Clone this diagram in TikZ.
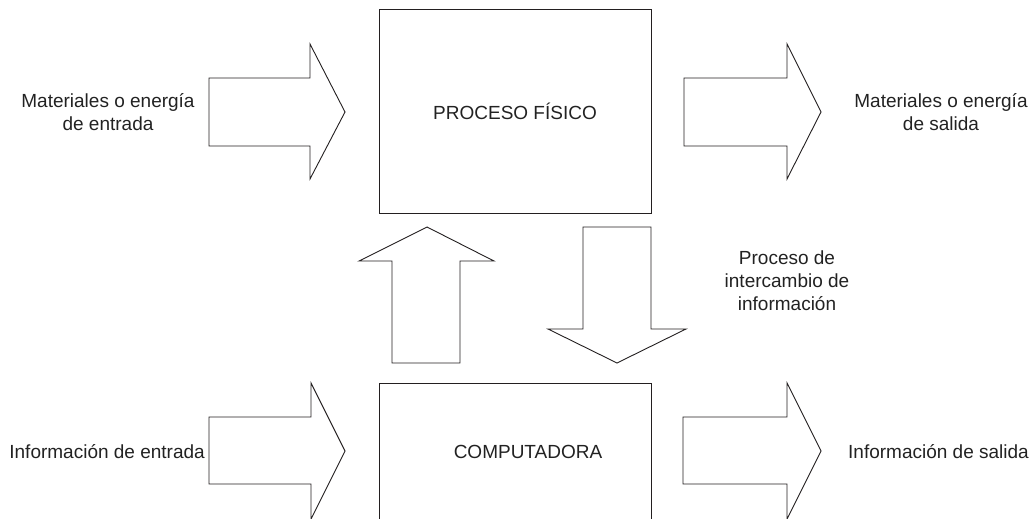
\documentclass[tikz,border=0pt]{standalone}
\usepackage{fontspec}
\setmainfont{Liberation Sans}
\definecolor{ink}{HTML}{231F20}
\definecolor{txt}{HTML}{222222}
\begin{document}
\begin{tikzpicture}[x=1pt,y=-1pt,
  box/.style={draw=ink,line width=1pt,inner sep=0pt,outer sep=0pt,font=\fontsize{19}{23}\selectfont,text=txt},
  lbl/.style={font=\fontsize{19}{23}\selectfont,text=txt,inner sep=0pt,align=center},
  blockarrow/.style={draw=ink,line width=0.9pt,line join=miter,fill=white}]
\clip (0,0) rectangle (1033,519);
\useasboundingbox (0,0) rectangle (1033,519);
% boxes
\node[box,minimum width=272pt,minimum height=203pt] (fisico) at (515,111.5) {PROCESO FÍSICO};
\node[box,minimum width=272pt,minimum height=180pt] (comp) at (515,473) {};
\node[lbl] (comptxt) at (528,452) {COMPUTADORA};
% horizontal block arrows
\draw[blockarrow] (209,78) -- (310,78) -- (310,44) -- (345,112) -- (310,179) -- (310,146) -- (209,146) -- cycle;
\draw[blockarrow] (684,78) -- (787,78) -- (787,44) -- (821,112) -- (787,179) -- (787,146) -- (684,146) -- cycle;
\draw[blockarrow] (209,417) -- (311,417) -- (311,383) -- (345,451) -- (311,519) -- (311,484) -- (209,484) -- cycle;
\draw[blockarrow] (683,417) -- (787,417) -- (787,383) -- (821,451) -- (787,519) -- (787,484) -- (683,484) -- cycle;
% vertical block arrows
\draw[blockarrow] (392,363) -- (392,261) -- (359,261) -- (427,227) -- (494,261) -- (460,261) -- (460,363) -- cycle;
\draw[blockarrow] (583,227) -- (651,227) -- (651,329) -- (686,329) -- (617,363) -- (548,329) -- (583,329) -- cycle;
% labels
\node[lbl] (matin) at (108,112) {Materiales o energía\\de entrada};
\node[lbl] (matout) at (941,112) {Materiales o energía\\de salida};
\node[lbl] (inter) at (787,281) {Proceso de\\intercambio de\\información};
\node[lbl,anchor=east] (infin) at (205,452) {Información de entrada};
\node[lbl,anchor=west] (infout) at (848,452) {Información de salida};
\end{tikzpicture}
\end{document}
